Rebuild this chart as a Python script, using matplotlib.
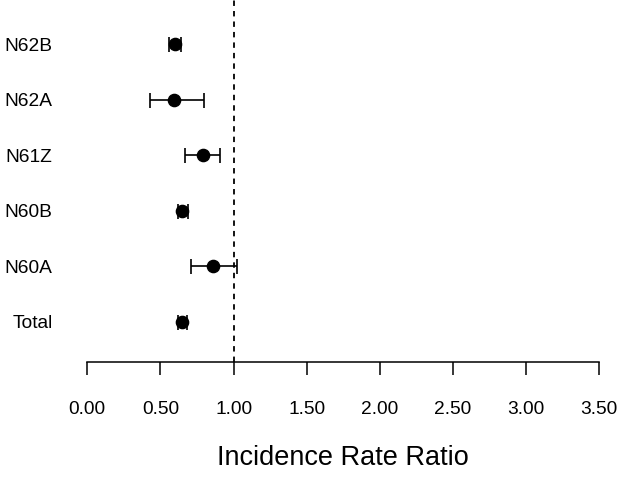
import matplotlib
matplotlib.use('Agg')
import matplotlib.pyplot as plt

plt.rcParams['font.family'] = ['Liberation Sans', 'DejaVu Sans']

# forest plot data
labels = ['N62B', 'N62A', 'N61Z', 'N60B', 'N60A', 'Total']
irr = [0.60, 0.595, 0.79, 0.65, 0.86, 0.645]
lower = [0.56, 0.43, 0.67, 0.62, 0.71, 0.62]
upper = [0.64, 0.80, 0.91, 0.69, 1.02, 0.68]
xticks = [0.0, 0.5, 1.0, 1.5, 2.0, 2.5, 3.0, 3.5]


def main():
    fig = plt.figure(figsize=(6.24, 4.8), dpi=100)
    ax = fig.add_axes([87.3 / 624, 118 / 480, 512 / 624, 362 / 480])

    n = len(labels)
    ypos = list(range(n, 0, -1))
    err_lo = [v - l for v, l in zip(irr, lower)]
    err_hi = [u - v for v, u in zip(irr, upper)]

    ax.axvline(1.0, color='black', linestyle=(0, (3.0, 2.8)), linewidth=1.3, zorder=1)
    ax.errorbar(irr, ypos, xerr=[err_lo, err_hi], fmt='o', color='black',
                markersize=8.8, elinewidth=1.2, capsize=5.4, capthick=1.2, zorder=3)

    ax.set_xlim(0, 3.5)
    ax.set_ylim(0.274, 6.797)
    ax.set_xticks(xticks)
    ax.set_xticklabels(['%.2f' % t for t in xticks], fontsize=13.8)
    ax.set_yticks(ypos)
    ax.set_yticklabels(labels, fontsize=13.8)

    for s in ['top', 'right', 'left']:
        ax.spines[s].set_visible(False)
    ax.spines['bottom'].set_linewidth(1.1)
    ax.tick_params(axis='x', direction='out', length=9.4, width=1.1, pad=18.5)
    ax.tick_params(axis='y', length=0, pad=25)

    ax.set_xlabel('Incidence Rate Ratio', fontsize=19.5)
    ax.xaxis.set_label_coords(0.5, -0.265)
    ax.xaxis.label.set_va('center')

    fig.savefig('out.png', dpi=100)


if __name__ == '__main__':
    main()
